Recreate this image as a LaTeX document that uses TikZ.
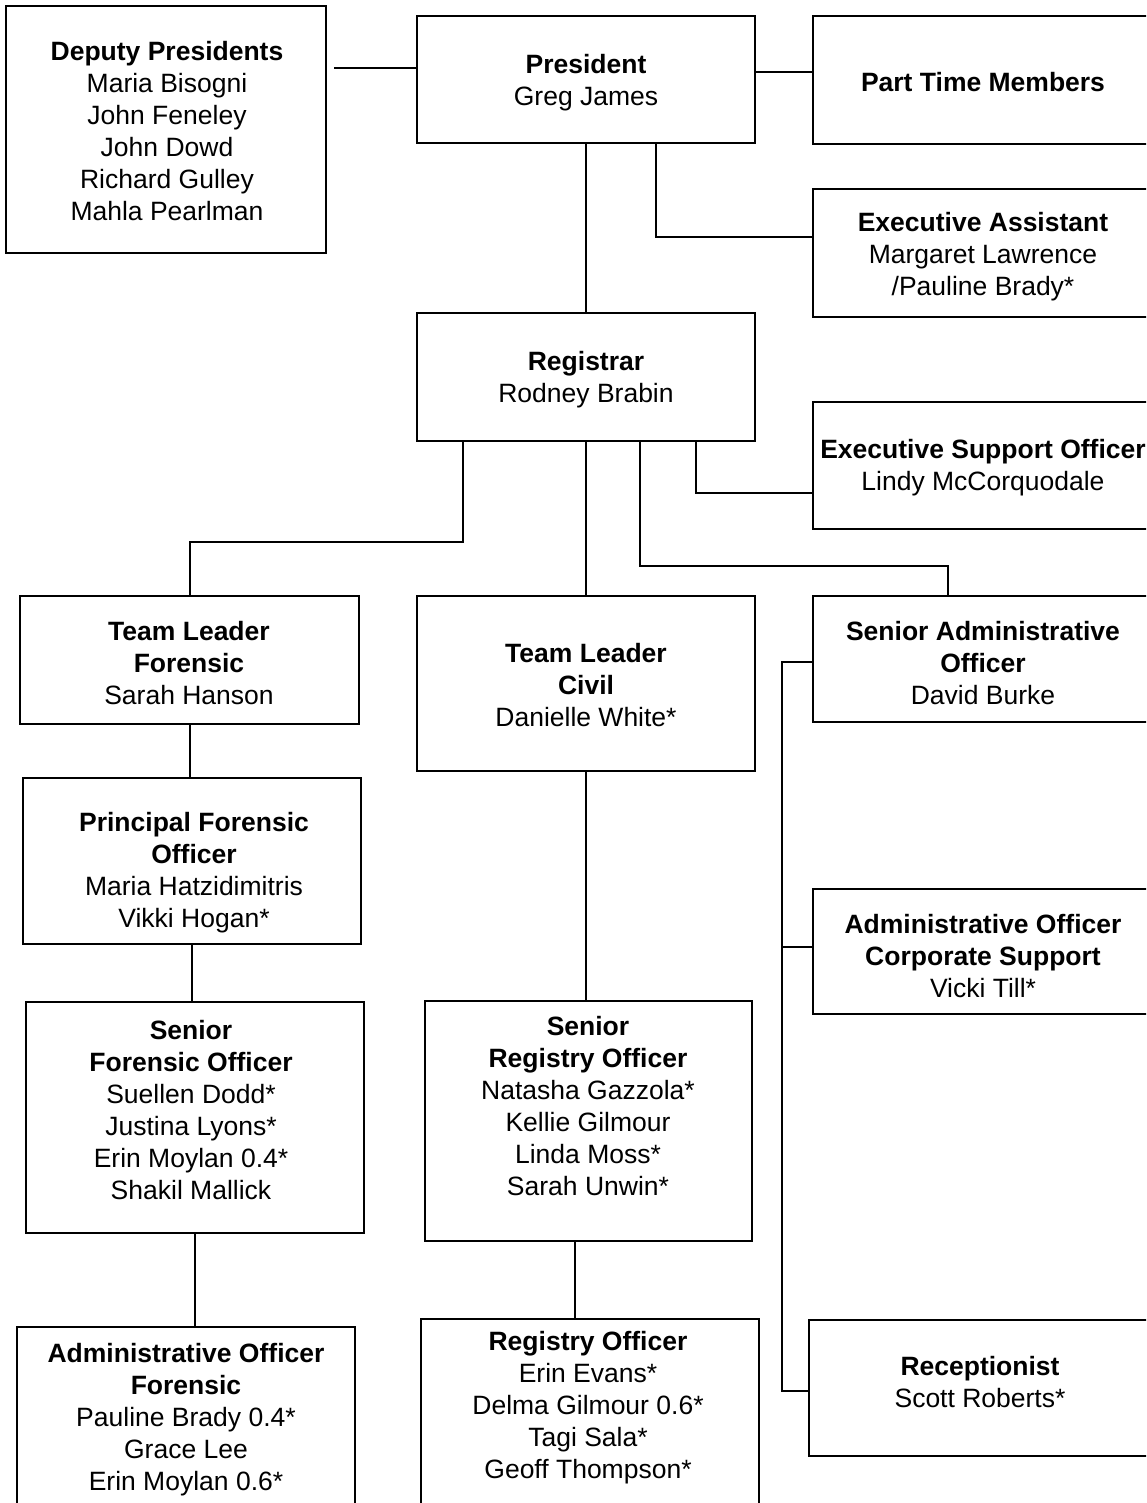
\documentclass[tikz,border=0pt]{standalone}
\usepackage{fontspec}
\setmainfont{Liberation Sans}
\begin{document}
\begin{tikzpicture}[x=1pt,y=-1pt,
  box/.style={draw, line width=2.3pt, inner sep=0pt, outer sep=0pt, rectangle},
  txt/.style={align=center, inner sep=0pt, yshift=-2pt, font=\fontsize{26.5}{32}\selectfont},
  link/.style={line width=2pt},
  buslink/.style={line width=2.6pt}]
\useasboundingbox (0,0) rectangle (1146,1503);
\clip (0,0) rectangle (1146,1503);

% ---------- boxes ----------
\node[box, minimum width=320pt, minimum height=247pt] (dep)  at (166,129.5) {};
\node[box, minimum width=338pt, minimum height=127pt] (pres) at (586,79.5) {};
\node[box, minimum width=339pt, minimum height=128pt] (ptm)  at (982.5,80) {};
\node[box, minimum width=339pt, minimum height=128pt] (ea)   at (982.5,253) {};
\node[box, minimum width=338pt, minimum height=128pt] (reg)  at (586,377) {};
\node[box, minimum width=339pt, minimum height=127pt] (eso)  at (982.5,465.5) {};
\node[box, minimum width=339pt, minimum height=128pt] (tlf)  at (189.5,660) {};
\node[box, minimum width=338pt, minimum height=175pt] (tlc)  at (586,683.5) {};
\node[box, minimum width=339pt, minimum height=126pt] (sao)  at (982.5,659) {};
\node[box, minimum width=338pt, minimum height=166pt] (pfo)  at (192,861) {};
\node[box, minimum width=339pt, minimum height=125pt] (aocs) at (982.5,951.5) {};
\node[box, minimum width=338pt, minimum height=231pt] (sfo)  at (195,1117.5) {};
\node[box, minimum width=327pt, minimum height=240pt] (sro)  at (588.5,1121) {};
\node[box, minimum width=343pt, minimum height=136pt] (rec)  at (980.5,1388) {};
\node[box, minimum width=338pt, minimum height=203pt] (aof)  at (186,1428.5) {};
\node[box, minimum width=338pt, minimum height=211pt] (ro)   at (590,1424.5) {};

% ---------- texts ----------
\node[txt] (depT) at (167,129) {\textbf{Deputy Presidents}\\Maria Bisogni\\John Feneley\\John Dowd\\Richard Gulley\\Mahla Pearlman};
\node[txt] (presT) at (586,81) {\textbf{President}\\Greg James};
\node[txt] (ptmT) at (983,80) {\textbf{Part Time Members}};
\node[txt] (eaT) at (983,255) {\textbf{Executive Assistant}\\Margaret Lawrence\\/Pauline Brady*};
\node[txt] (regT) at (586,378) {\textbf{Registrar}\\Rodney Brabin};
\node[txt] (esoT) at (983,466) {\textbf{Executive Support Officer}\\Lindy McCorquodale};
\node[txt] (tlfT) at (189,661) {\textbf{Team Leader}\\\textbf{Forensic}\\Sarah Hanson};
\node[txt] (tlcT) at (586,683) {\textbf{Team Leader}\\\textbf{Civil}\\Danielle White*};
\node[txt] (saoT) at (983,661) {\textbf{Senior Administrative}\\\textbf{Officer}\\David Burke};
\node[txt] (pfoT) at (194,871) {\textbf{Principal Forensic}\\\textbf{Officer}\\Maria Hatzidimitris\\Vikki Hogan*};
\node[txt] (aocsT) at (983,954) {\textbf{Administrative Officer}\\\textbf{Corporate Support}\\Vicki Till*};
\node[txt] (sfoT) at (191,1108) {\textbf{Senior}\\\textbf{Forensic Officer}\\Suellen Dodd*\\Justina Lyons*\\Erin Moylan 0.4*\\Shakil Mallick};
\node[txt] (sroT) at (588,1104) {\textbf{Senior}\\\textbf{Registry Officer}\\Natasha Gazzola*\\Kellie Gilmour\\Linda Moss*\\Sarah Unwin*};
\node[txt] (recT) at (980,1380) {\textbf{Receptionist}\\Scott Roberts*};
\node[txt] (aofT) at (186,1418) {\textbf{Administrative Officer}\\\textbf{Forensic}\\Pauline Brady 0.4*\\Grace Lee\\Erin Moylan 0.6*};
\node[txt] (roT) at (588,1406) {\textbf{Registry Officer}\\Erin Evans*\\Delma Gilmour 0.6*\\Tagi Sala*\\Geoff Thompson*};

% ---------- helper coordinates ----------
\coordinate (depL) at (334,68);
\coordinate (ptmY) at (0,72);
\coordinate (eaJ) at (656,237);
\coordinate (esoJ) at (696,493);
\coordinate (tlfJ) at (463,542);
\coordinate (saoJ) at (640,566);
\coordinate (saoK) at (948,566);
\coordinate (roJ) at (575,0);
\coordinate (busTop) at (782,662);
\coordinate (busMid) at (782,947);
\coordinate (busBot) at (782,1391);

% ---------- connectors ----------
\draw[link] (depL) -- (pres.west |- depL);
\draw[link] (pres.east |- ptmY) -- (ptm.west |- ptmY);
\draw[link] (pres.south -| eaJ) -- (eaJ) -- (ea.west |- eaJ);
\draw[link] (pres.south) -- (reg.north);
\draw[link] (reg.south -| esoJ) -- (esoJ) -- (eso.west |- esoJ);
\draw[link] (reg.south -| tlfJ) -- (tlfJ) -| (tlf.north);
\draw[link] (reg.south) -- (tlc.north);
\draw[link] (reg.south -| saoJ) -- (saoJ) -- (saoK) -- (sao.north -| saoK);
\draw[link] (tlf.south) -- (tlf.south |- pfo.north);
\draw[link] (pfo.south) -- (pfo.south |- sfo.north);
\draw[link] (sfo.south) -- (sfo.south |- aof.north);
\draw[link] (tlc.south) -- (tlc.south |- sro.north);
\draw[link] (sro.south -| roJ) -- (ro.north -| roJ);
\draw[buslink] (sao.west |- busTop) -- (busTop) -- (busBot) -- (rec.west |- busBot);
\draw[link] (busMid) -- (aocs.west |- busMid);
\end{tikzpicture}
\end{document}
